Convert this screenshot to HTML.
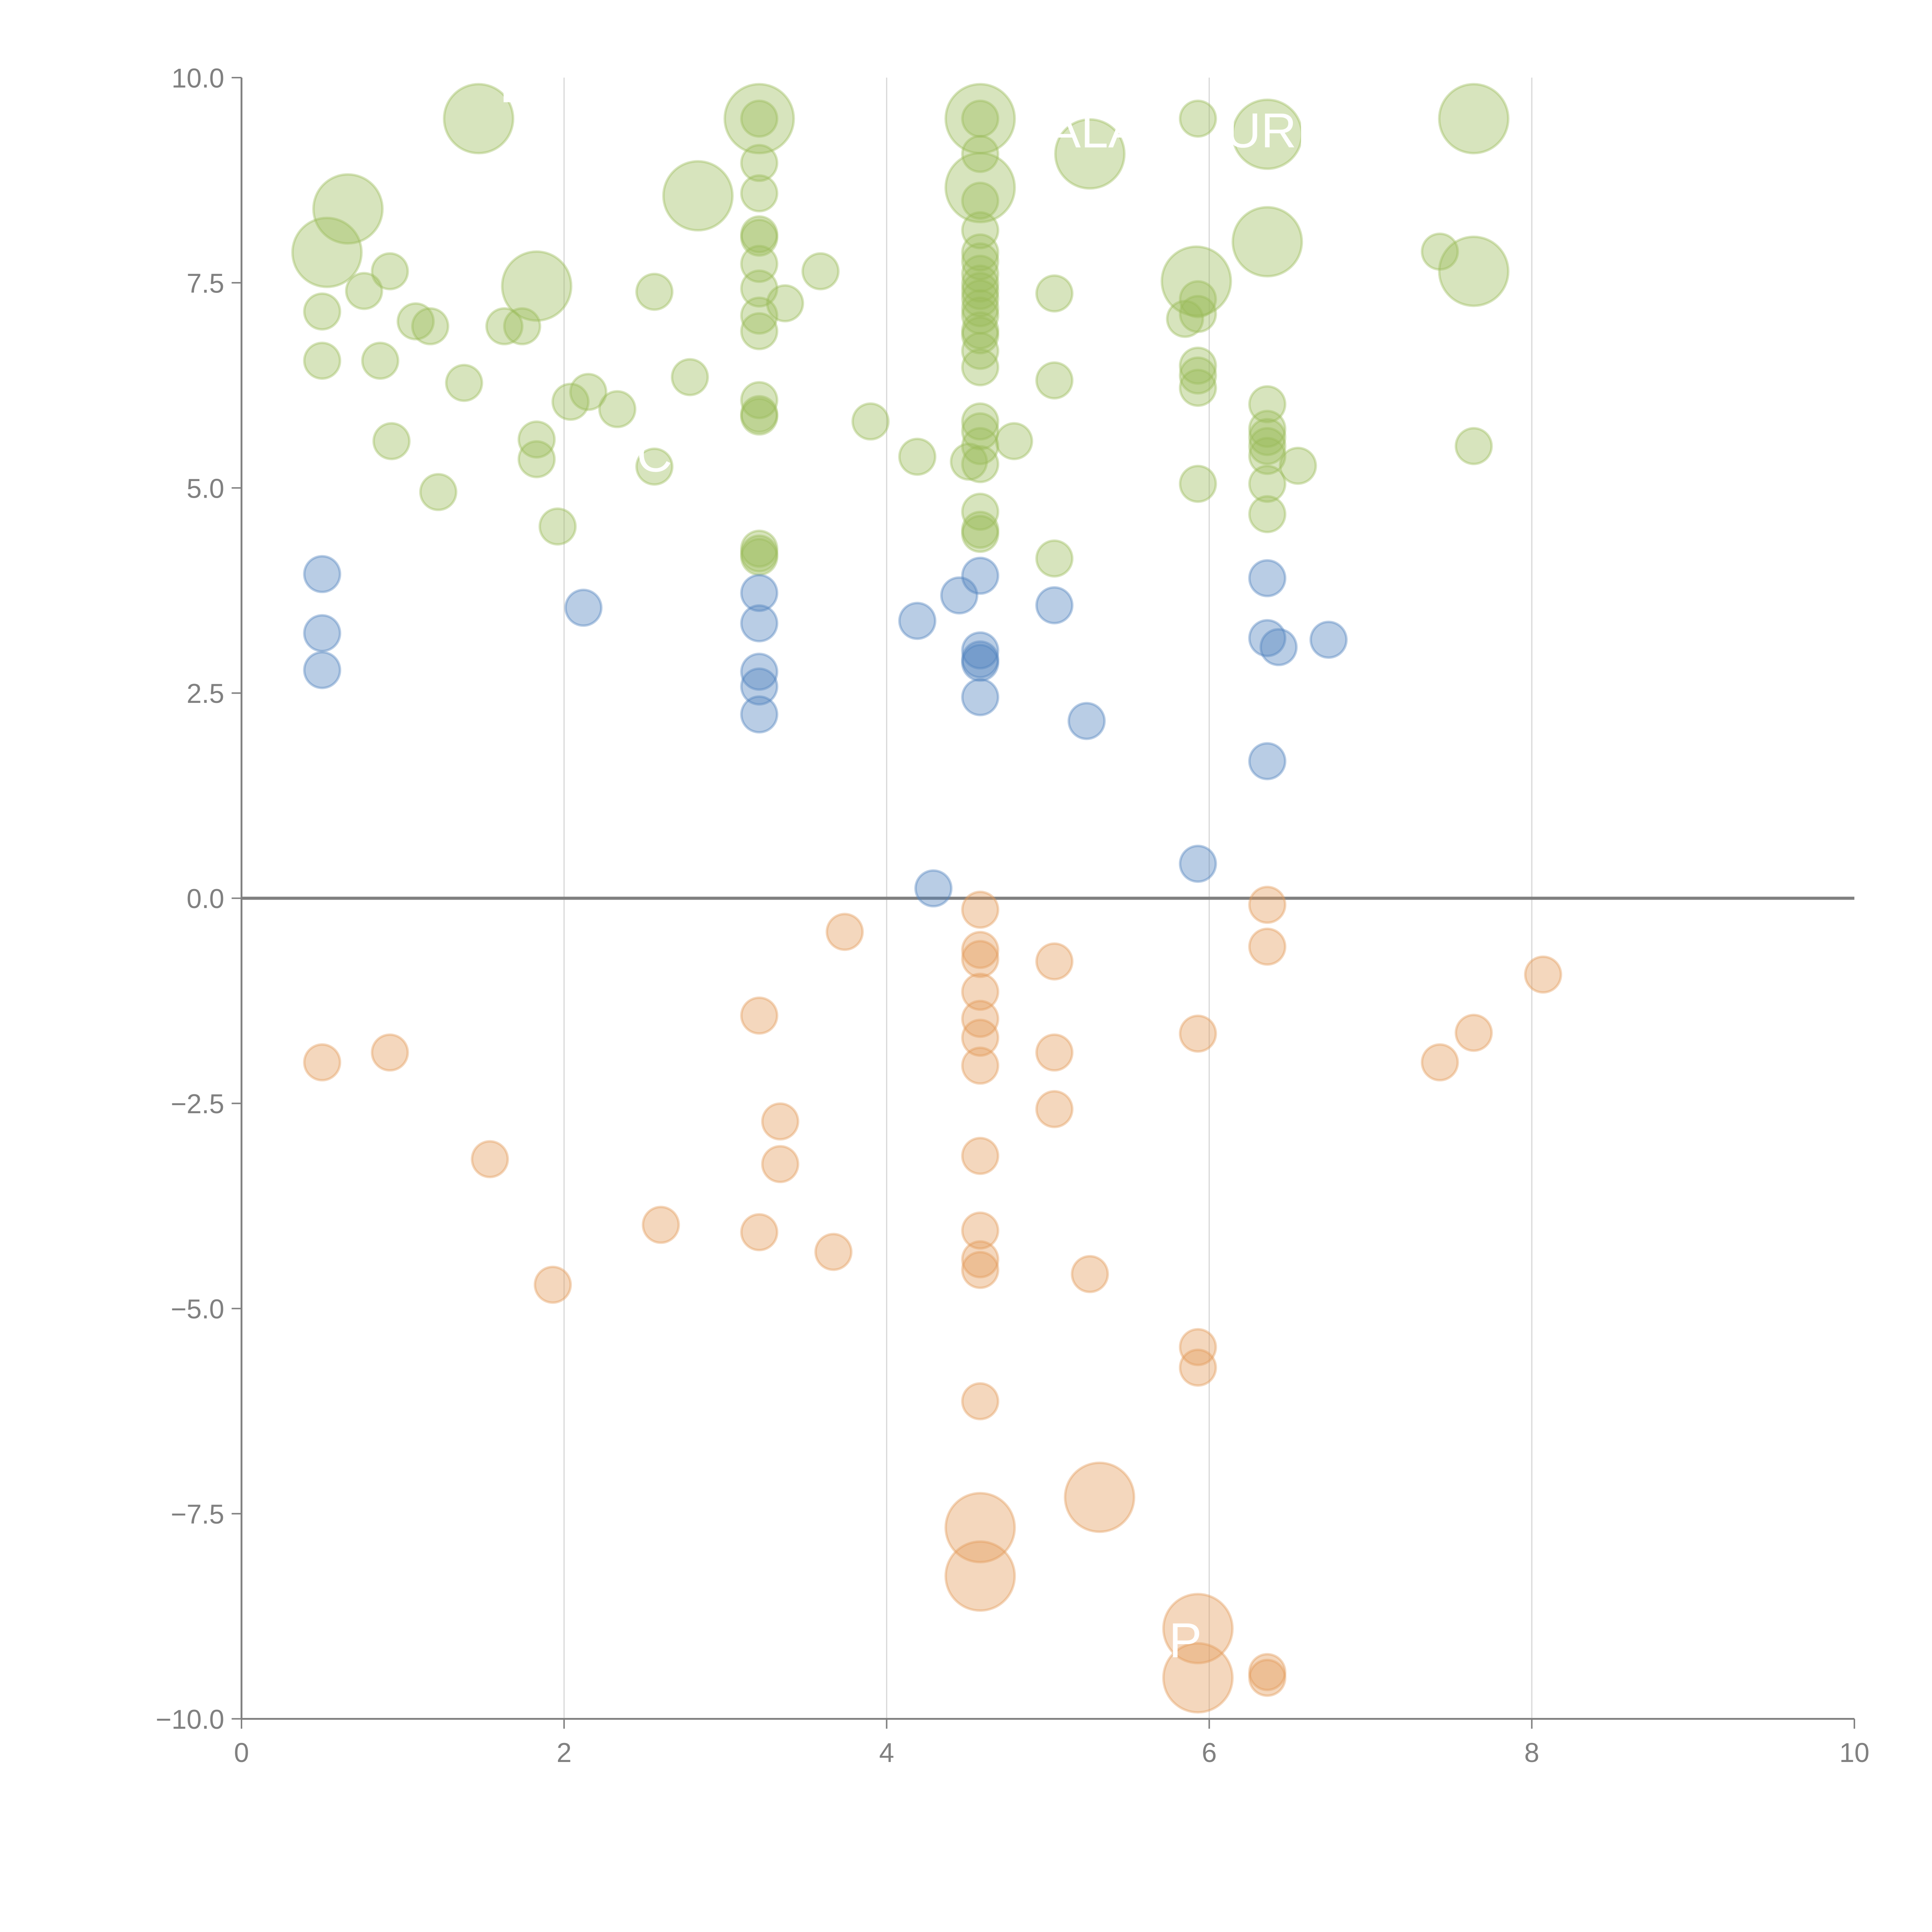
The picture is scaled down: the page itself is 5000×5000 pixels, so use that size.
<!DOCTYPE html>
<html><head><meta charset="utf-8"><style>
html,body{margin:0;padding:0;background:#fff}
svg{display:block}
text{font-family:"Liberation Sans",Arial,sans-serif}
</style></head><body>
<svg id="chart" width="5000" height="5000" viewBox="0 0 1568 1568" xmlns="http://www.w3.org/2000/svg">
<g id="grid"></g>
<g id="axes"></g>
<g id="marks"></g>
<g id="labels"></g>
</svg>
<script>
const xTicks=[0,2,4,6,8,10];
const yTicks=[-10,-7.5,-5,-2.5,0,2.5,5,7.5,10];
const yTickLabels=["−10.0","−7.5","−5.0","−2.5","0.0","2.5","5.0","7.5","10.0"];
const greenBigX=[1.47,0.66,0.53,1.83,2.83,3.21,4.58,4.58,5.26,6.36,6.36,5.92,7.64,7.64];
const greenBigY=[9.5,8.4,7.87,7.46,8.56,9.5,9.5,8.66,9.07,9.31,8.0,7.52,9.5,7.64];
const greenX=[0.5,0.5,0.76,0.92,0.86,1.08,1.17,0.93,1.38,1.22,1.63,1.74,1.83,1.83,1.96,2.04,2.15,2.33,2.56,2.56,2.78,3.21,3.21,3.21,3.21,3.21,3.21,3.21,3.21,3.21,3.37,3.21,3.21,3.21,3.21,3.21,3.21,3.59,3.9,4.19,4.58,4.58,4.58,4.58,4.58,4.58,4.58,4.58,4.58,4.58,4.58,4.58,4.58,4.58,4.58,4.58,4.58,4.58,4.58,4.58,4.51,4.79,4.58,4.58,4.58,5.04,5.04,5.04,5.93,5.93,5.85,5.93,5.93,5.93,5.93,5.93,6.36,6.36,6.36,6.36,6.36,6.36,6.36,6.55,7.43,7.64];
const greenY=[7.15,6.55,7.4,7.64,6.55,7.03,6.97,5.57,6.28,4.95,6.97,6.97,5.59,5.35,4.53,6.05,6.17,5.96,7.39,5.26,6.35,9.5,8.96,8.59,8.09,8.05,7.73,7.43,7.1,6.91,7.25,6.07,5.9,5.87,4.26,4.2,4.16,7.64,5.81,5.38,9.5,9.07,8.5,8.14,7.87,7.76,7.61,7.49,7.4,7.31,7.19,7.1,6.92,6.86,6.67,6.47,5.81,5.69,5.51,5.29,5.32,5.57,4.71,4.49,4.44,7.37,6.31,4.14,9.5,7.3,7.06,7.12,6.49,6.37,6.22,5.05,6.02,5.72,5.62,5.51,5.39,5.05,4.68,5.27,7.88,5.51];
const blueX=[0.5,0.5,0.5,2.12,3.21,3.21,3.21,3.21,3.21,4.19,4.45,4.58,4.58,4.58,4.58,4.58,4.29,5.04,5.24,5.93,6.36,6.36,6.43,6.74,6.36];
const blueY=[3.95,3.23,2.78,3.54,3.72,3.35,2.76,2.58,2.24,3.38,3.69,3.93,3.02,2.91,2.87,2.45,0.12,3.57,2.16,0.42,3.9,3.17,3.06,3.15,1.67];
const orangeX=[4.58,3.74,4.58,4.58,5.04,6.36,6.36,8.07,0.5,0.92,3.21,4.58,4.58,4.58,4.58,5.04,5.93,7.43,7.64,5.04,3.34,3.34,1.54,4.58,2.6,3.21,3.67,4.58,4.58,4.58,5.26,1.93,5.93,5.93,4.58,6.36,6.36];
const orangeY=[-0.14,-0.41,-0.63,-0.74,-0.77,-0.08,-0.59,-0.93,-2.0,-1.88,-1.43,-1.14,-1.47,-1.7,-2.04,-1.88,-1.65,-2.0,-1.64,-2.57,-2.72,-3.24,-3.18,-3.14,-3.98,-4.07,-4.31,-4.05,-4.4,-4.53,-4.58,-4.71,-5.47,-5.72,-6.13,-9.43,-9.5];
const orangeBigX=[5.32,4.58,4.58,5.93,5.93];
const orangeBigY=[-7.3,-7.67,-8.26,-8.9,-9.5];

const NS="http://www.w3.org/2000/svg";
const X0=196,X1=1505,Y0=1395,Y1=63;
const sx=v=>X0+(v-0)/(10-0)*(X1-X0);
const sy=v=>Y0-(v+10)/20*(Y0-Y1);
function mk(tag,attrs,parent){const e=document.createElementNS(NS,tag);for(const k in attrs)e.setAttribute(k,attrs[k]);parent.appendChild(e);return e;}
const grid=document.getElementById('grid'),axes=document.getElementById('axes'),marks=document.getElementById('marks'),labels=document.getElementById('labels');
xTicks.forEach(t=>{
  if(t>0&&t<10){const g=mk('line',{x1:sx(t),x2:sx(t),y1:Y1,y2:Y0,stroke:'#d9d9d9','stroke-width':1},grid);
  
  }
  const tk=mk('line',{x1:sx(t),x2:sx(t),y1:Y0,y2:Y0+8,stroke:'#808080','stroke-width':1.2},axes);
  
  
  const tx=mk('text',{x:sx(t),y:Y0+35,'text-anchor':'middle','font-size':22,fill:'#808080'},axes);
  tx.textContent=t;
  
  
});
yTicks.forEach((t,i)=>{
  const tk=mk('line',{x1:X0-8,x2:X0,y1:sy(t),y2:sy(t),stroke:'#808080','stroke-width':1.2},axes);
  
  
  const tx=mk('text',{x:X0-14,y:sy(t)+8,'text-anchor':'end','font-size':22,fill:'#808080'},axes);
  tx.textContent=yTickLabels[i];
  
  
});
const ya=mk('line',{x1:X0,x2:X0,y1:Y1,y2:Y0,stroke:'#808080','stroke-width':1.5},axes);


const xa=mk('line',{x1:X0,x2:X1,y1:Y0,y2:Y0,stroke:'#808080','stroke-width':1.5},axes);


const zl=mk('line',{x1:X0,x2:X1,y1:sy(0),y2:sy(0),stroke:'#808080','stroke-width':2.5},axes);



function series(xs,ys,r,color,name){
  xs.forEach((x,i)=>{
    const c=mk('circle',{cx:sx(x),cy:sy(ys[i]),r:r,fill:color,'fill-opacity':0.4,stroke:color,'stroke-opacity':0.4,'stroke-width':2},marks);
    
    
  });
}
series(greenBigX,greenBigY,28,'#9bbb59','bubble-positive-large');
series(greenX,greenY,14.5,'#9bbb59','bubble-positive');
series(blueX,blueY,14.5,'#4f81bd','bubble-neutral');
series(orangeX,orangeY,14.5,'#e39a5a','bubble-negative');
series(orangeBigX,orangeBigY,28,'#e39a5a','bubble-negative-large');

const lblText=["L","ALA","URI","C","N","X","P"];
const lblX=[1.6,5.0,6.1,2.45,4.0,4.0,5.75];
const lblY=[9.7,9.15,9.15,5.2,-7.4,-8.0,-9.25];
lblText.forEach((t,i)=>{
  const e=mk('text',{x:sx(lblX[i]),y:sy(lblY[i]),'font-size':40,fill:'#ffffff'},labels);
  e.textContent=t;
  
  
});
</script>
</body></html>
